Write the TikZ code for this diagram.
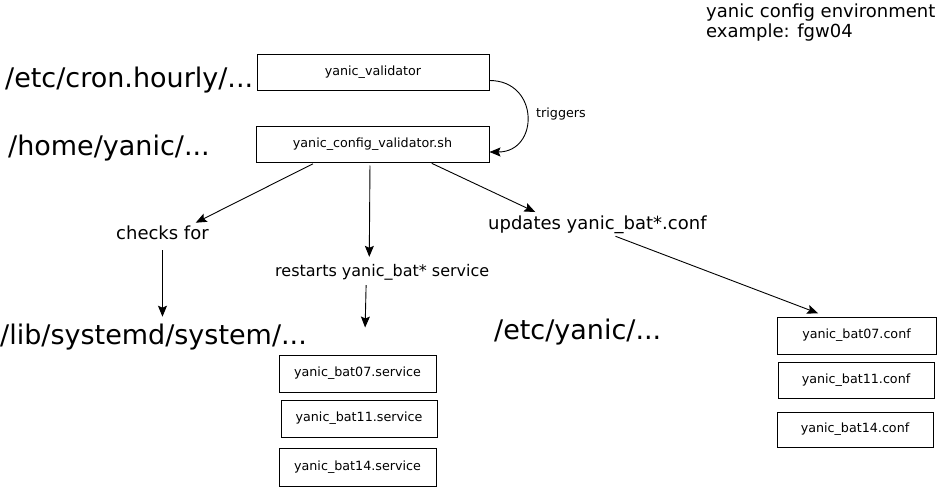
\documentclass[tikz,border=0pt]{standalone}
\usepackage{fontspec}
\setmainfont{DejaVu Sans}
\usetikzlibrary{positioning, arrows.meta, calc}

\begin{document}
\begin{tikzpicture}[x=1pt, y=-1pt,
    filebox/.style={draw, line width=1pt, inner sep=0pt, font=\fontsize{12.7}{15}\selectfont},
    bigpath/.style={inner sep=0pt, anchor=west, font=\fontsize{27}{32}\selectfont},
    midlabel/.style={inner sep=0pt, anchor=west, font=\fontsize{18}{21}\selectfont},
    arr/.style={line width=0.9pt, -{Stealth[length=11pt, width=9pt, inset=2pt]}}]
    \useasboundingbox (0,0) rectangle (937,487);

    \node[filebox, minimum width=232pt, minimum height=35pt] (validator) at (373,72.5) {yanic\_validator};
    \node[filebox, minimum width=233pt, minimum height=36pt] (cfgval) at (372.5,144) {yanic\_config\_validator.sh};

    \node[bigpath] (cron) at (5,80) {/etc/cron.hourly/...};
    \node[bigpath] (home) at (8,148) {/home/yanic/...};
    \node[bigpath] (lib) at (0,337) {/lib/systemd/system/...};
    \node[bigpath] (etcyanic) at (494,332) {/etc/yanic/...};

    \node[inner sep=0pt, anchor=west, font=\fontsize{12.7}{15}\selectfont] (triggers) at (536,114) {triggers};
    \node[midlabel] (checks) at (116,233) {checks for};
    \node[inner sep=0pt, anchor=west, font=\fontsize{16}{19}\selectfont] (restarts) at (275,272) {restarts yanic\_bat* service};
    \node[midlabel] (updates) at (488,225) {updates yanic\_bat*.conf};
    \node[midlabel, anchor=north west, align=left, font=\fontsize{18}{20}\selectfont] (envnote) at (706,4)
        {yanic config environment\\example: fgw04};

    \node[filebox, minimum width=157pt, minimum height=37pt] (svc07) at (357.5,373.5) {yanic\_bat07.service};
    \node[filebox, minimum width=156pt, minimum height=37pt] (svc11) at (359,418.5) {yanic\_bat11.service};
    \node[filebox, minimum width=157pt, minimum height=38pt] (svc14) at (357.5,467) {yanic\_bat14.service};

    \node[filebox, minimum width=159pt, minimum height=37pt] (conf07) at (856.5,335.5) {yanic\_bat07.conf};
    \node[filebox, minimum width=156pt, minimum height=36pt] (conf11) at (856,380) {yanic\_bat11.conf};
    \node[filebox, minimum width=156pt, minimum height=35pt] (conf14) at (855,429.5) {yanic\_bat14.conf};

    \draw[arr] ([yshift=-8pt]validator.east) .. controls +(50,0) and +(50,0) .. ([yshift=-8pt]cfgval.east);
    \draw[arr, shorten <=3pt, shorten >=7pt] ([xshift=-57pt]cfgval.south) -- ([xshift=27pt]checks.north);
    \draw[arr, shorten <=3pt, shorten >=7pt] ([xshift=-2.5pt]cfgval.south) -- ([xshift=-13pt]restarts.north);
    \draw[arr, shorten <=2pt, shorten >=9pt] ([xshift=57.5pt]cfgval.south) -- ([xshift=-54pt]updates.north);
    \draw[arr, shorten <=10pt, shorten >=7pt] (checks.south) -- (checks.south |- lib.north);
    \draw[arr, shorten <=5pt, shorten >=27pt] ([xshift=-16pt]restarts.south) -- ([xshift=7pt]svc07.north);
    \draw[arr, shorten <=6pt, shorten >=9pt] ([xshift=12.5pt]updates.south) -- ([xshift=-30pt]conf07.north);
\end{tikzpicture}
\end{document}
